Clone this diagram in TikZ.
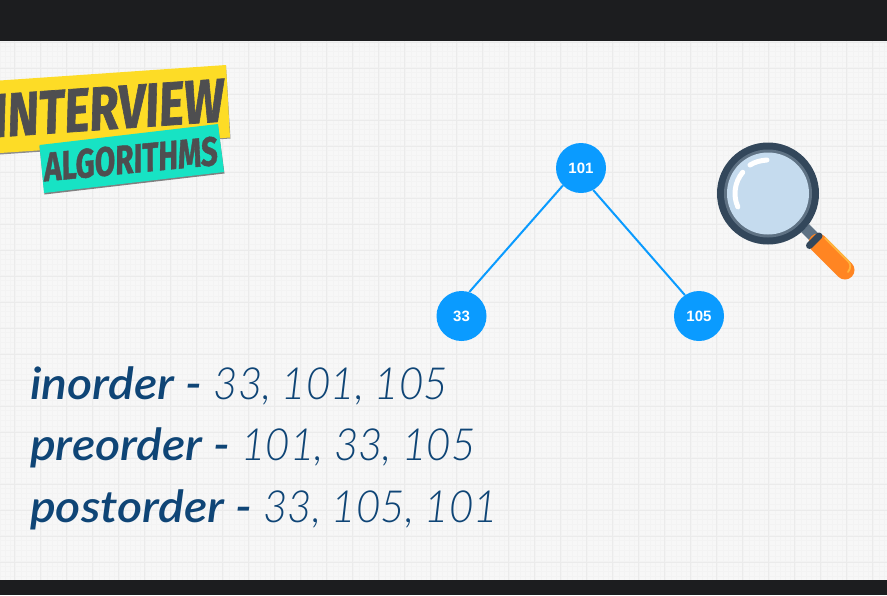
\documentclass[tikz,border=0pt]{standalone}
\usepackage{fontspec}
\setmainfont{Lato}[ItalicFont={Lato Light Italic}]
\newfontfamily\bannerfont{Fira Sans}[FakeBold=1.2]
\newfontfamily\nodefont{Liberation Sans}
\usetikzlibrary{positioning}
\definecolor{barblack}{HTML}{1C1D1F}
\definecolor{paper}{HTML}{F7F7F7}
\definecolor{gridmajor}{HTML}{EBEBEB}
\definecolor{gridminor}{HTML}{F3F3F3}
\definecolor{treeblue}{HTML}{0A9BFF}
\definecolor{navy}{HTML}{0F4576}
\definecolor{bannerink}{HTML}{4E4E50}
\definecolor{banneryellow}{HTML}{FDDC26}
\definecolor{bannerteal}{HTML}{17E3C4}
\definecolor{glassrim}{HTML}{33475B}
\definecolor{glassrimin}{HTML}{5F7284}
\definecolor{glassblue}{HTML}{C5DBEE}
\definecolor{handleorange}{HTML}{FF8522}
\definecolor{handlelight}{HTML}{FFB43C}
\newcommand{\ordername}[1]{{\bfseries\addfontfeature{FakeStretch=1.09}#1}}
\newcommand{\ordervals}[1]{{\addfontfeature{FakeStretch=0.95}#1}}
\tikzset{
  treenode/.style={circle, fill=treeblue, text=white, minimum size=50pt, inner sep=0pt,
    font=\nodefont\fontsize{15}{15}\selectfont\bfseries},
  treeline/.style={draw=treeblue, line width=2pt},
  orderline/.style={anchor=base west, inner sep=0pt, text=navy, font=\fontsize{44.3}{44.3}\selectfont\itshape},
  bannertext/.style={text=bannerink, inner sep=0pt, xslant=.1},
}
\begin{document}
\begin{tikzpicture}[x=1pt,y=-1pt]
  \useasboundingbox (0,0) rectangle (887,595);
  \clip (0,0) rectangle (887,595);
  \fill[paper] (0,0) rectangle (887,595);
  % grid
  \foreach \gx in {0,...,170}
    \draw[gridminor, line width=0.4pt] (\gx*5.2,41) -- (\gx*5.2,580);
  \foreach \gy in {0,...,104}
    \draw[gridminor, line width=0.4pt] (0,41+\gy*5.2) -- (887,41+\gy*5.2);
  \foreach \gx in {0,...,34}
    \draw[gridmajor, line width=0.8pt] (14.7+\gx*26,41) -- (14.7+\gx*26,580);
  \foreach \gy in {0,...,20}
    \draw[gridmajor, line width=0.8pt] (0,42+\gy*26) -- (887,42+\gy*26);
  % dark bars
  \fill[barblack] (0,0) rectangle (887,41);
  \fill[barblack] (0,580) rectangle (887,595);

  % banner
  \fill[black!45] (0,81.5) -- (226,66) -- (230.5,138.5) -- (0,154.5) -- cycle;
  \fill[banneryellow] (0,80.5) -- (226,65) -- (230,137.5) -- (0,153) -- cycle;
  \node[bannertext, rotate=4, xscale=.76, font=\bannerfont\fontsize{62}{62}\selectfont\bfseries] (interview) at (109,108) {INTERVIEW};
  \fill[black!50] (39.5,146) -- (218,125.5) -- (224.5,173.5) -- (44.5,194.5) -- cycle;
  \fill[bannerteal] (39.5,145) -- (218,124) -- (224,172) -- (44,193) -- cycle;
  \node[bannertext, rotate=5.5, xscale=.72, font=\bannerfont\fontsize{41}{41}\selectfont\bfseries] (algorithms) at (131,159) {ALGORITHMS};

  % tree
  \node[treenode] (root) at (581,168) {101};
  \node[treenode] (left) at (461.5,316) {33};
  \node[treenode] (right) at (699,316) {105};
  \path[treeline]
    (root.224) edge (left.72)
    (root.-61) edge (right.124);

  % magnifier
  \draw[line width=11pt, glassrimin] (805,228) -- (818,241);
  \draw[line width=19pt, handleorange, line cap=round] (818,243) -- (845,270);
  \draw[line width=1.8pt, handlelight, line cap=round] (825,238)
    -- (848,261) .. controls (851,264) and (851,268) .. (848,272);
  \draw[line width=7pt, glassrim, line cap=round] (809.5,245.5) -- (819,236);
  \fill[glassrim] (768,193.5) circle (51);
  \fill[glassrimin] (768,193.5) circle (44);
  \fill[glassblue] (768,193.5) circle (41);
  \draw[white, line width=5pt, line cap=round] (768,193.5) ++(220:33) arc[start angle=220, end angle=156, radius=33];
  \draw[white, line width=5pt, line cap=round] (750,165) .. controls (755,162) and (760,160.5) .. (767,160);

  % traversal text
  \node[orderline] (inorder) at (30,399) {\ordername{inorder -} \ordervals{33, 101, 105}};
  \node[orderline] (preorder) at (30,460) {\ordername{preorder -} \ordervals{101, 33, 105}};
  \node[orderline] (postorder) at (30,522) {\ordername{postorder -} \ordervals{33, 105, 101}};
\end{tikzpicture}
\end{document}
